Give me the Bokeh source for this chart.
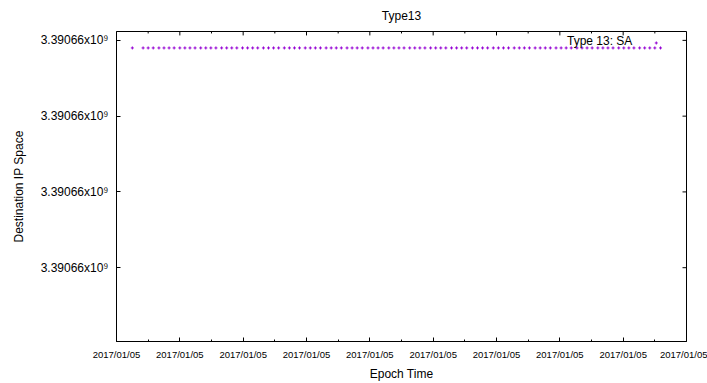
from bokeh.plotting import figure
from bokeh.models import Range1d, FixedTicker, DatetimeTickFormatter, Label
from bokeh.embed import file_html
from bokeh.resources import INLINE

# ---------------- data ----------------
title_text = "Type13"
series_name = "Type 13: SA"
x_label = "Epoch Time"
y_label = "Destination IP Space"

base_epoch = 1483610000  # seconds, 2017/01/05
# offsets (s) of each observation from base_epoch
time_offsets = [25, 42, 50, 58, 67, 75, 83, 91, 100, 108, 116, 124, 133, 141, 149,
                157, 166, 174, 182, 190, 199, 207, 215, 223, 232, 240, 248, 256,
                265, 273, 281, 289, 298, 306, 314, 322, 331, 339, 347, 355, 364,
                372, 380, 388, 397, 405, 413, 421, 430, 438, 446, 454, 463, 471,
                479, 487, 496, 504, 512, 520, 529, 537, 545, 553, 562, 570, 578,
                586, 595, 603, 611, 619, 628, 636, 644, 652, 661, 669, 677, 685,
                694, 702, 710, 718, 727, 735, 743, 751, 760, 768, 776, 784, 793,
                801, 809, 817, 826, 834, 842, 850, 859]
dst_ip = [3390660390] * len(time_offsets)

x_tick_offsets = [0, 100, 200, 300, 400, 500, 600, 700, 800, 900]
x_tick_label_fmt = "%Y/%m/%d"
y_tick_values = [3390660100, 3390660200, 3390660300, 3390660400]
y_tick_labels = ["3.39066x10\u2079"] * 4
y_start, y_end = 3390660002.6, 3390660411.7

FONT = "Liberation Sans"
PURPLE = "#9400D3"
FRAME_W, FRAME_H = 570, 315

xs = [(base_epoch + t) * 1000 for t in time_offsets]
x_ticks = [(base_epoch + t) * 1000 for t in x_tick_offsets]
x_minor = [(x_ticks[i] + x_ticks[i + 1]) / 2 for i in range(len(x_ticks) - 1)]
x_start, x_end = x_ticks[0], x_ticks[-1]
px_y = (y_end - y_start) / FRAME_H
px_x = (x_end - x_start) / FRAME_W

p = figure(width=707, height=383, output_backend="svg", toolbar_location=None,
           x_axis_type="datetime",
           x_range=Range1d(x_start, x_end),
           y_range=Range1d(y_start, y_end),
           min_border_left=116, min_border_right=21,
           min_border_top=31, min_border_bottom=37,
           background_fill_color="white", border_fill_color="white")
p.xgrid.visible = False
p.ygrid.visible = False
p.outline_line_color = "black"
p.outline_line_width = 1

p.title.text = title_text
p.title.align = "center"
p.title.vertical_align = "top"
p.title.text_font = FONT
p.title.text_font_size = "12px"
p.title.text_font_style = "normal"
p.title.text_color = "black"
p.title.standoff = 14

fmt = DatetimeTickFormatter(microseconds=x_tick_label_fmt, milliseconds=x_tick_label_fmt,
                            seconds=x_tick_label_fmt, minsec=x_tick_label_fmt,
                            minutes=x_tick_label_fmt, hourmin=x_tick_label_fmt,
                            hours=x_tick_label_fmt, days=x_tick_label_fmt,
                            months=x_tick_label_fmt, years=x_tick_label_fmt)
xticker = FixedTicker(ticks=x_ticks, minor_ticks=x_minor)
yticker = FixedTicker(ticks=y_tick_values, minor_ticks=[])


def style(ax):
    ax.axis_line_color = "black"
    ax.major_tick_line_color = "black"
    ax.minor_tick_line_color = "black"
    ax.major_tick_in = 4
    ax.major_tick_out = 0
    ax.minor_tick_in = 2
    ax.minor_tick_out = 0


xa = p.xaxis[0]
xa.ticker = xticker
xa.formatter = fmt
style(xa)
xa.major_label_text_font = FONT
xa.major_label_text_font_size = "9.5px"
xa.major_label_text_color = "black"
xa.major_label_standoff = 7
xa.axis_label = x_label
xa.axis_label_text_font = FONT
xa.axis_label_text_font_size = "12px"
xa.axis_label_text_font_style = "normal"
xa.axis_label_text_color = "black"
xa.axis_label_standoff = 4

ya = p.yaxis[0]
ya.ticker = yticker
ya.major_label_overrides = dict(zip(y_tick_values, y_tick_labels))
style(ya)
ya.major_label_text_font = FONT
ya.major_label_text_font_size = "12px"
ya.major_label_text_color = "black"
ya.major_label_standoff = 8
ya.axis_label = y_label
ya.axis_label_text_font = FONT
ya.axis_label_text_font_size = "12px"
ya.axis_label_text_font_style = "normal"
ya.axis_label_text_color = "black"
ya.axis_label_standoff = 12

# mirrored inward ticks on top and right edges (gnuplot style)
p.segment(x0=x_ticks, x1=x_ticks, y0=[y_end] * len(x_ticks),
          y1=[y_end - 4 * px_y] * len(x_ticks), line_color="black", line_width=1)
p.segment(x0=x_minor, x1=x_minor, y0=[y_end] * len(x_minor),
          y1=[y_end - 2 * px_y] * len(x_minor), line_color="black", line_width=1)
p.segment(x0=[x_end] * len(y_tick_values), x1=[x_end - 4 * px_x] * len(y_tick_values),
          y0=y_tick_values, y1=y_tick_values, line_color="black", line_width=1)

p.scatter(xs, dst_ip, marker="cross", size=3, line_color=PURPLE, line_width=1)

# key (gnuplot style: text then sample, top right)
key_text_x = x_start + (x_end - x_start) * 0.905
key_y = y_start + (y_end - y_start) * 0.97
p.add_layout(Label(x=key_text_x, y=key_y, text=series_name, text_align="right",
                   text_baseline="middle", text_font=FONT, text_font_size="12px",
                   text_color="black"))
key_sample_x = x_start + (x_end - x_start) * 0.947
p.scatter([key_sample_x], [y_start + (y_end - y_start) * 0.963], marker="cross",
          size=3, line_color=PURPLE, line_width=1)

open("out.html", "w").write(file_html(p, INLINE))
